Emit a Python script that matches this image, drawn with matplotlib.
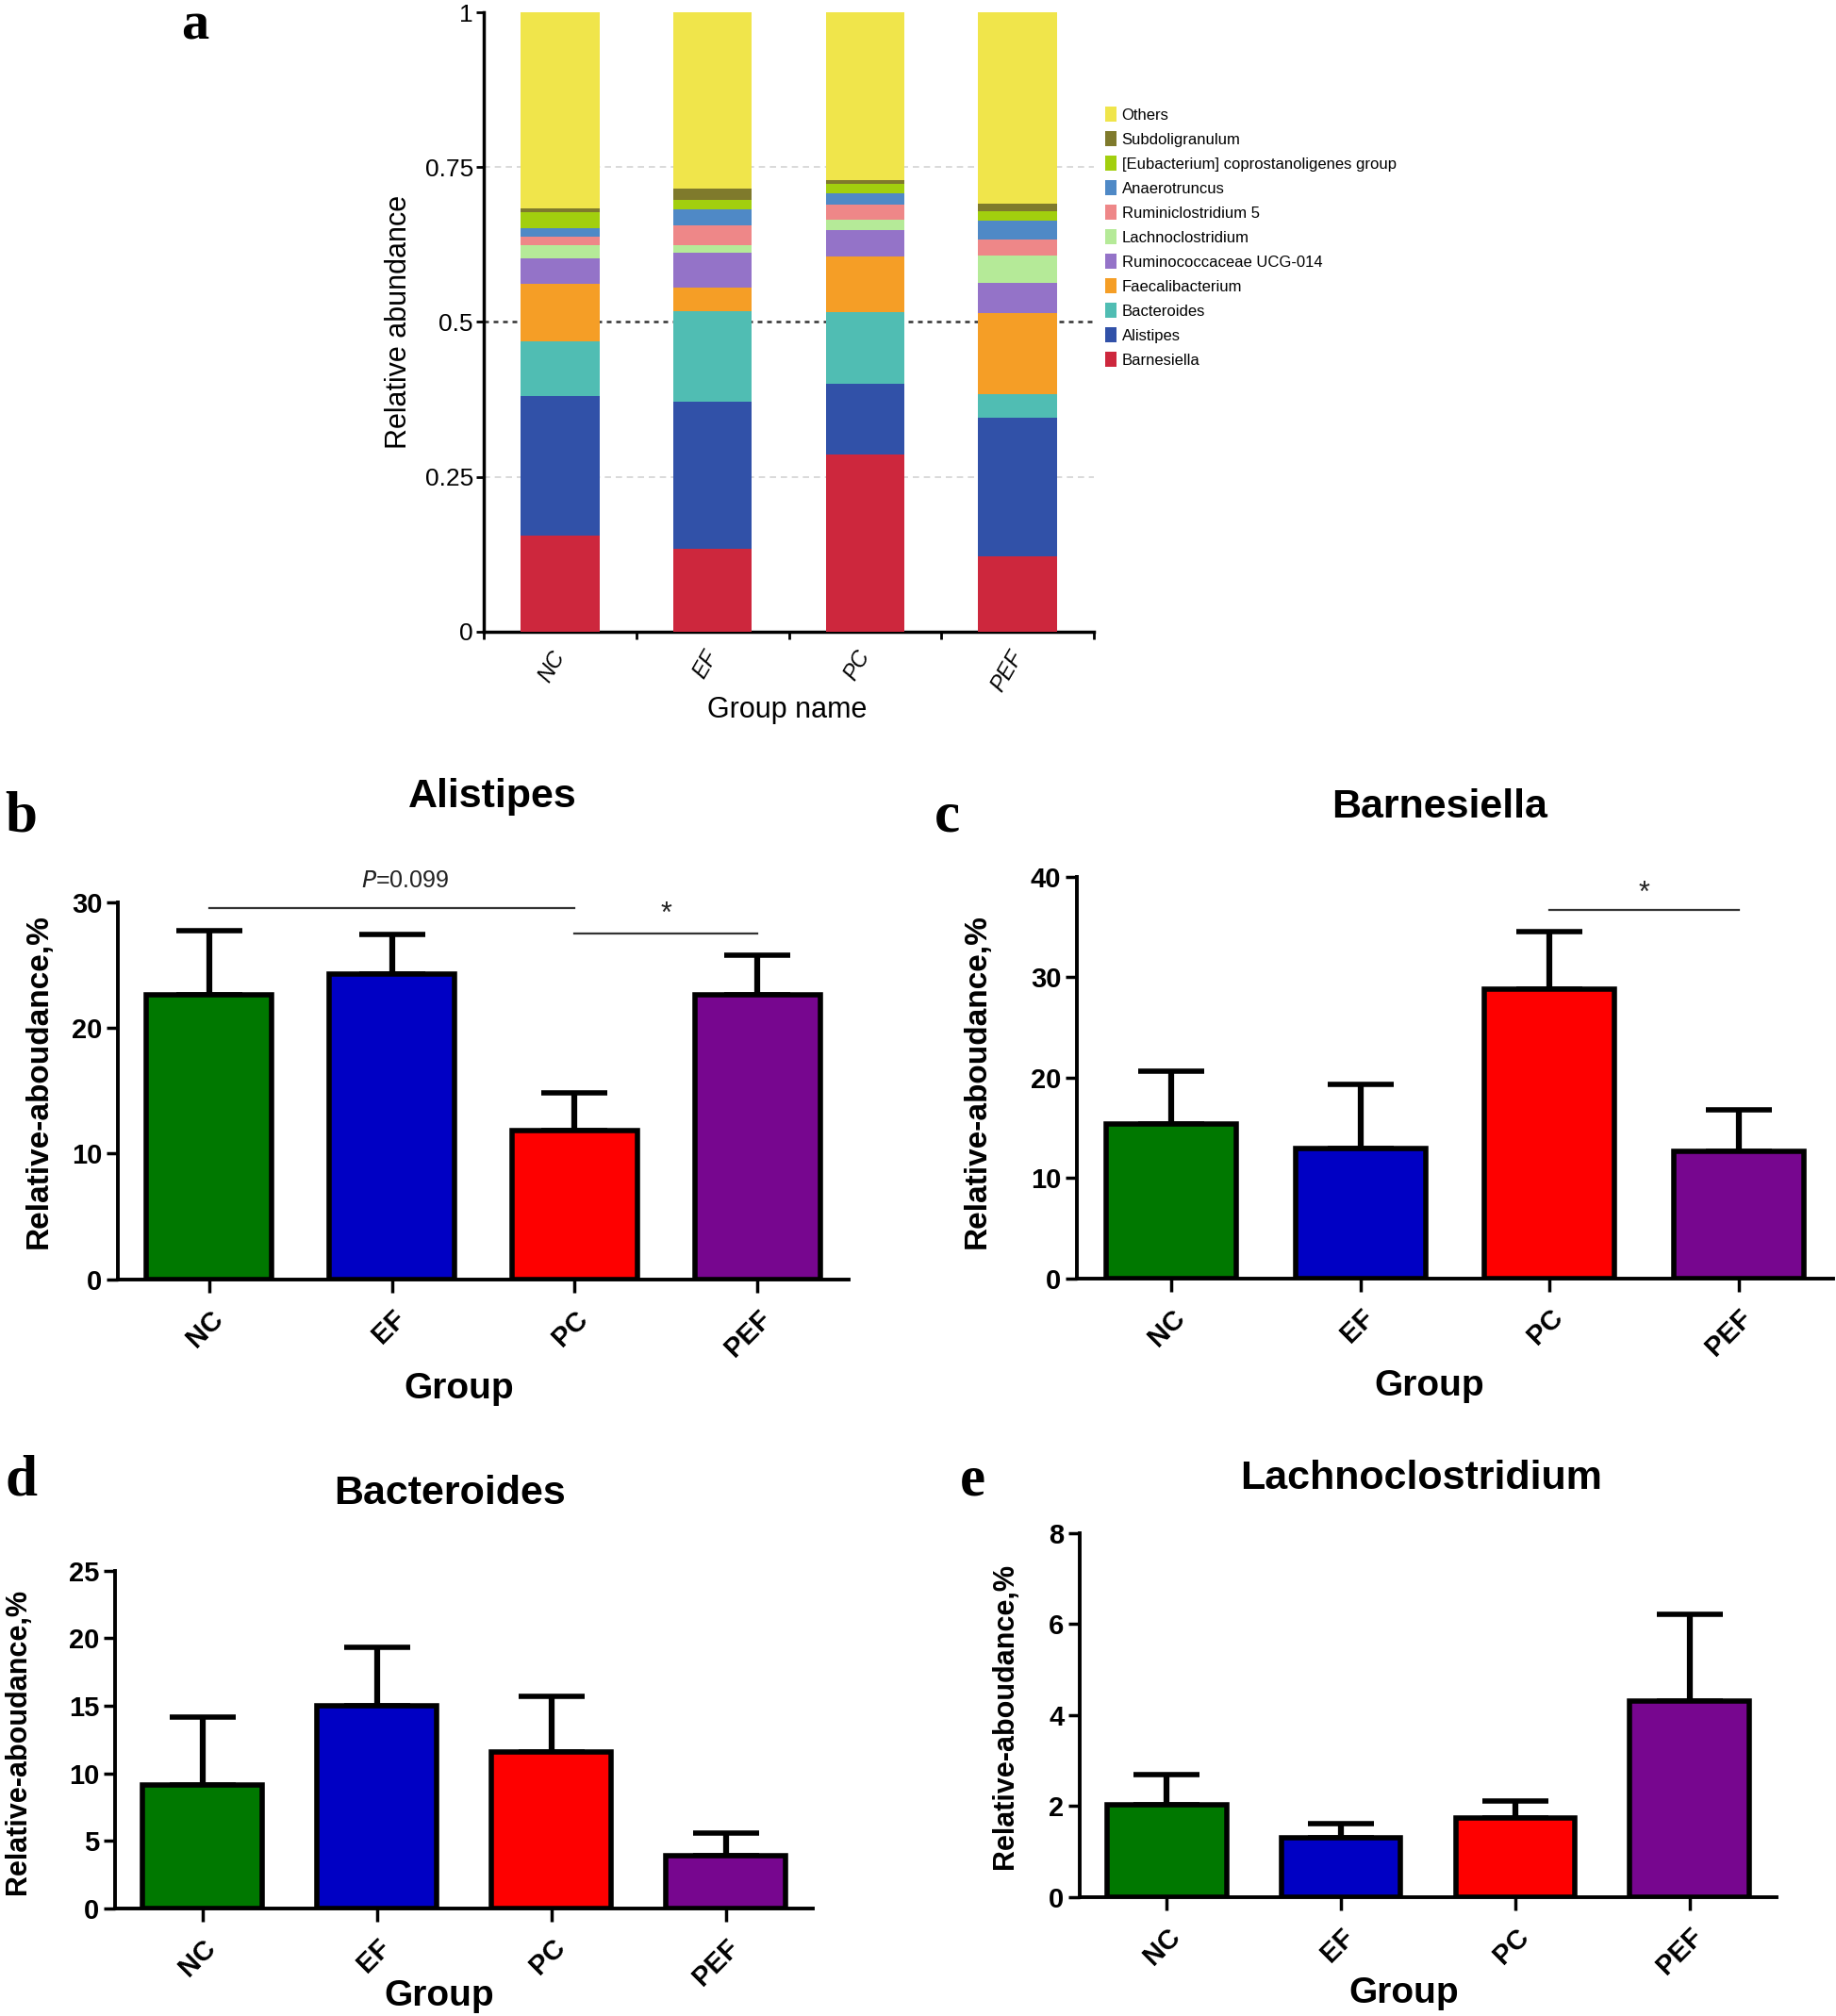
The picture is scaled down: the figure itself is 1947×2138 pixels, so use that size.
import numpy as np
import matplotlib
matplotlib.use("Agg")
import matplotlib.pyplot as plt
from matplotlib import font_manager as fm


def pick(*names):
    for n in names:
        try:
            fm.findfont(fm.FontProperties(family=n), fallback_to_default=False)
            return n
        except Exception:
            pass
    return "DejaVu Sans"


NARROW = pick("Liberation Sans Narrow", "Liberation Sans", "DejaVu Sans")
SANS = pick("Liberation Sans", "Arial", "DejaVu Sans")
SERIF = pick("Liberation Serif", "DejaVu Serif")

# ---------------- data ----------------
groups = ["NC", "EF", "PC", "PEF"]

# panel a: stacked relative abundance (bottom -> top)
taxa = ["Barnesiella", "Alistipes", "Bacteroides", "Faecalibacterium",
        "Ruminococcaceae UCG-014", "Lachnoclostridium", "Ruminiclostridium 5",
        "Anaerotruncus", "[Eubacterium] coprostanoligenes group",
        "Subdoligranulum", "Others"]
barnesiella = [0.155, 0.133, 0.286, 0.122]
alistipes = [0.225, 0.238, 0.114, 0.223]
bacteroides = [0.088, 0.147, 0.116, 0.039]
faecalibacterium = [0.093, 0.038, 0.090, 0.130]
ruminococcaceae = [0.042, 0.056, 0.043, 0.049]
lachnoclostridium = [0.021, 0.012, 0.017, 0.044]
ruminiclostridium5 = [0.014, 0.032, 0.024, 0.026]
anaerotruncus = [0.014, 0.026, 0.018, 0.031]
eubacterium = [0.025, 0.015, 0.015, 0.015]
subdoligranulum = [0.007, 0.019, 0.006, 0.012]
others = [0.316, 0.284, 0.271, 0.309]
taxa_colors = ["#CD273D", "#3151A8", "#50BDB3", "#F59E26", "#9473C8",
               "#B5EA98", "#EE8788", "#4F89C6", "#A2CF0E", "#7F7A2C", "#F0E54B"]

# panels b-e: mean and SEM (%)
alistipes_mean = [22.6, 24.3, 11.8, 22.6]
alistipes_sem = [5.1, 3.1, 3.0, 3.2]
barnesiella_mean = [15.4, 12.9, 28.8, 12.6]
barnesiella_sem = [5.25, 6.45, 5.7, 4.2]
bacteroides_mean = [9.14, 15.0, 11.54, 3.9]
bacteroides_sem = [5.0, 4.3, 4.16, 1.64]
lachno_mean = [2.03, 1.30, 1.74, 4.30]
lachno_sem = [0.65, 0.32, 0.37, 1.92]
group_colors = ["#007800", "#0000C4", "#FE0000", "#77068F"]

# ---------------- figure ----------------
W, H = 1947, 2138
fig = plt.figure(figsize=(W / 100, H / 100), dpi=100)


def axes_px(left, top, right, bottom):
    return fig.add_axes([left / W, 1 - bottom / H, (right - left) / W, (bottom - top) / H])


def ftext(x, y, s, **kw):
    return fig.text(x / W, 1 - y / H, s, **kw)


# ---------------- panel a ----------------
axa = axes_px(513, 13.4, 1160, 669.6)
series = [barnesiella, alistipes, bacteroides, faecalibacterium, ruminococcaceae,
          lachnoclostridium, ruminiclostridium5, anaerotruncus, eubacterium,
          subdoligranulum, others]
x = np.arange(len(groups))
bottom = np.zeros(len(groups))
handles = []
for name, vals, col in zip(taxa, series, taxa_colors):
    b = axa.bar(x, vals, width=0.516, bottom=bottom, color=col, linewidth=0,
                label=name, zorder=3)
    handles.append(b)
    bottom = bottom + np.array(vals)

axa.axhline(0.25, color="#d3d3d3", lw=1.2, ls=(0, (4, 3)), zorder=1)
axa.axhline(0.75, color="#d3d3d3", lw=1.2, ls=(0, (4, 3)), zorder=1)
axa.axhline(0.5, color="#333333", lw=1.8, ls=(0, (2, 2)), zorder=1)

axa.set_xlim(-0.5, 3.5)
axa.set_ylim(0, 1)
for s in ["top", "right"]:
    axa.spines[s].set_visible(False)
for s in ["left", "bottom"]:
    axa.spines[s].set_linewidth(2.5)
axa.set_yticks([0, 0.25, 0.5, 0.75, 1])
axa.set_yticklabels(["0", "0.25", "0.5", "0.75", "1"], fontsize=19, family=NARROW)
axa.tick_params(axis="y", length=6, width=2, pad=2)
axa.set_xticks(x)
axa.set_xticklabels(groups, rotation=60, ha="right", va="center",
                    rotation_mode="anchor", fontsize=17, style="italic", family=SANS)
axa.tick_params(axis="x", which="major", length=0, pad=16)
axa.set_xticks([-0.5, 0.5, 1.5, 2.5, 3.5], minor=True)
axa.tick_params(axis="x", which="minor", length=6, width=2)

ftext(423, 341, "Relative abundance", rotation=90, ha="center", va="center",
      fontsize=22, family=SANS)
ftext(835, 753, "Group name", ha="center", va="center", fontsize=22, family=SANS)

fig.legend(handles[::-1], taxa[::-1], loc="upper left",
           bbox_to_anchor=(1172 / W, 1 - 113 / H), frameon=False,
           prop={"family": NARROW, "size": 12}, handlelength=0.7,
           handleheight=1.1, handletextpad=0.35, labelspacing=0.56,
           borderpad=0, borderaxespad=0)


# ---------------- panels b-e ----------------
def bar_panel(ax, means, sems, ymax, step):
    xx = np.arange(len(groups))
    ax.errorbar(xx, means, yerr=[np.zeros(len(groups)), sems], fmt="none",
                ecolor="black", elinewidth=4.5, capsize=25, capthick=4,
                zorder=1, clip_on=False)
    ax.bar(xx, means, width=0.686, color=group_colors, edgecolor="black",
           linewidth=4, zorder=2)
    ax.set_xlim(-0.5, 3.5)
    ax.set_ylim(0, ymax)
    for s in ["top", "right"]:
        ax.spines[s].set_visible(False)
    for s in ["left", "bottom"]:
        ax.spines[s].set_linewidth(2.8)
        ax.spines[s].set_zorder(3)
    ticks = np.arange(0, ymax + step / 2, step)
    ax.set_yticks(ticks)
    ax.set_yticklabels([f"{t:g}" for t in ticks], fontsize=21,
                       fontweight="bold", family=SANS)
    ax.tick_params(axis="y", length=9, width=2.5, pad=3)
    ax.set_xticks(xx)
    ax.set_xticklabels(groups, rotation=45, ha="right", va="top",
                       rotation_mode="anchor", fontsize=21, fontweight="bold",
                       family=SANS)
    ax.tick_params(axis="x", length=10, width=2.5, pad=10)


def sig_line(ax, x0, x1, y, text, ty, italic_p=False, fs=18):
    ax.plot([x0, x1], [y, y], color="#333333", lw=1.6, clip_on=False, zorder=4)
    if italic_p:
        ax.text((x0 + x1) / 2 + 0.07, ty, r"$\it{P}$" + "=0.099", ha="center",
                va="center", fontsize=fs, family=SANS, color="#222222")
    else:
        ax.text((x0 + x1) / 2, ty, text, ha="center", va="center", fontsize=fs,
                family=SANS, color="#222222")


axb = axes_px(125, 956.7, 900, 1356.7)
bar_panel(axb, alistipes_mean, alistipes_sem, 30, 10)
sig_line(axb, 0, 2, 29.55, "P=0.099", 31.7, italic_p=True)
sig_line(axb, 2, 3, 27.5, "*", 29.0, fs=22)

axc = axes_px(1142, 929.7, 1944, 1355.6)
bar_panel(axc, barnesiella_mean, barnesiella_sem, 40, 10)
sig_line(axc, 2, 3, 36.66, "*", 38.3, fs=22)

axd = axes_px(122, 1665.9, 862, 2023.6)
bar_panel(axd, bacteroides_mean, bacteroides_sem, 25, 5)

axe = axes_px(1145, 1625.8, 1884, 2011.8)
bar_panel(axe, lachno_mean, lachno_sem, 8, 2)

# titles
tkw = dict(ha="center", va="center", fontsize=31, fontweight="bold", family=SANS)
ftext(522, 845, "Alistipes", **tkw)
ftext(1527, 856, "Barnesiella", **tkw)
ftext(477, 1584, "Bacteroides", **tkw)
ftext(1507, 1568, "Lachnoclostridium", **tkw)

# x labels
gkw = dict(ha="center", va="center", fontsize=28, fontweight="bold", family=SANS)
ftext(487, 1473, "Group", **gkw)
ftext(1516, 1470, "Group", **gkw)
ftext(466, 2117, "Group", **gkw)
ftext(1489, 2114, "Group", **gkw)

# y labels
ykw = dict(rotation=90, ha="center", va="center", fontweight="bold", family=SANS)
ftext(41, 1147, "Relative-aboudance,%", fontsize=24, **ykw)
ftext(1036, 1147, "Relative-aboudance,%", fontsize=24, **ykw)
ftext(19, 1847, "Relative-aboudance,%", fontsize=22, **ykw)
ftext(1066, 1820, "Relative-aboudance,%", fontsize=22, **ykw)

# panel letters
ftext(207, 1, "a", ha="center", va="top", fontsize=42, fontweight="bold",
      family=SERIF)
lkw = dict(ha="center", va="center", fontsize=44, fontweight="bold", family=SERIF)
ftext(22, 866, "b", **lkw)
ftext(1004, 866, "c", **lkw)
ftext(22, 1571, "d", **lkw)
ftext(1031, 1571, "e", **lkw)

fig.savefig("out.png", dpi=100)
